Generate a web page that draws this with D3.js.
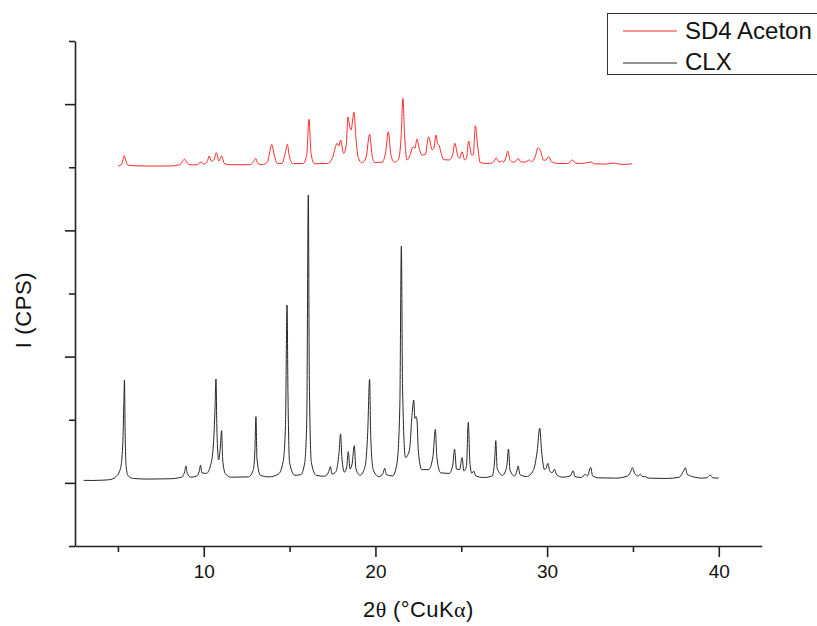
<!DOCTYPE html>
<html>
<head>
<meta charset="utf-8">
<script src="https://cdn.jsdelivr.net/npm/d3@7/dist/d3.min.js"></script>
<style>
  html, body { margin: 0; padding: 0; background: #fff; }
  svg { display: block; }
  text { font-family: Arial, "Liberation Sans", sans-serif; fill: #111; }
</style>
</head>
<body>
<svg id="chart" width="817" height="626"></svg>
<script>
// ---------- data ----------
const seriesNames = ["SD4 Aceton", "CLX"];
const seriesColors = ["#ff2a2a", "#262626"];

const xMajorTicks = [10, 20, 30, 40];
const xMinorTicks = [5, 15, 25, 35];
const yMajorTicks = [0, 2000, 4000, 6000];
const yMinorTicks = [-1000, 1000, 3000, 5000, 7000];

// SD4 Aceton trace (2θ, counts incl. stacking offset)
const sd4Theta = [5.0,5.2,5.3,5.37,5.45,5.6,6.5,8.0,8.6,8.8,8.88,9.0,9.2,9.6,9.84,10.0,10.2,10.32,10.45,10.6,10.73,10.88,11.04,11.2,11.5,12.7,12.95,13.02,13.15,13.4,13.7,13.85,13.96,14.1,14.3,14.55,14.75,14.87,14.98,15.2,15.8,16.0,16.13,16.25,16.45,17.2,17.5,17.65,17.76,17.87,17.97,18.15,18.3,18.4,18.5,18.58,18.75,18.87,19.0,19.2,19.45,19.66,19.8,19.95,20.4,20.6,20.75,20.9,21.1,21.35,21.5,21.6,21.7,21.84,22.0,22.19,22.3,22.42,22.55,22.71,22.9,23.1,23.3,23.4,23.53,23.62,23.72,23.85,23.98,24.3,24.5,24.62,24.8,24.9,25.05,25.2,25.3,25.43,25.6,25.7,25.82,25.95,26.11,26.5,26.8,26.95,27.03,27.2,27.35,27.45,27.6,27.7,27.85,28.0,28.2,28.31,28.45,28.7,28.97,29.1,29.3,29.47,29.6,29.8,29.95,30.1,30.25,30.6,31.2,31.49,31.65,32.0,32.3,32.56,32.75,33.4,33.88,34.2,34.5,34.95];
const sd4Counts = [5020,5040,5120,5183,5110,5030,5020,5020,5040,5110,5131,5080,5040,5040,5083,5050,5090,5178,5095,5120,5230,5100,5178,5060,5040,5040,5110,5141,5060,5040,5080,5250,5363,5200,5057,5060,5230,5363,5180,5055,5060,5200,5760,5220,5055,5060,5150,5300,5379,5337,5431,5220,5350,5796,5650,5590,5870,5450,5150,5072,5150,5522,5200,5075,5080,5250,5563,5200,5080,5130,5500,6092,5500,5115,5180,5325,5300,5447,5300,5194,5200,5484,5280,5300,5511,5380,5337,5200,5120,5115,5200,5379,5180,5141,5246,5115,5140,5416,5194,5200,5658,5350,5072,5060,5070,5110,5151,5080,5100,5080,5150,5257,5110,5080,5100,5141,5090,5080,5115,5090,5160,5310,5270,5110,5120,5167,5090,5060,5060,5115,5065,5060,5070,5083,5055,5050,5067,5050,5045,5055];

// CLX trace (2θ, counts)
const clxTheta = [3.0,3.5,4.0,4.5,4.9,5.15,5.28,5.35,5.38,5.42,5.48,5.6,5.9,6.8,8.0,8.7,8.88,8.96,9.04,9.25,9.6,9.74,9.81,9.89,10.15,10.4,10.56,10.66,10.71,10.77,10.87,10.96,11.04,11.1,11.25,11.6,12.6,12.88,12.98,13.04,13.1,13.3,13.8,14.35,14.62,14.76,14.85,14.91,15.0,15.3,15.65,15.88,16.0,16.09,16.15,16.27,16.55,17.05,17.28,17.37,17.48,17.7,17.88,17.97,18.05,18.2,18.33,18.42,18.52,18.64,18.77,18.86,19.1,19.4,19.55,19.66,19.73,19.88,20.2,20.44,20.54,20.64,21.0,21.25,21.42,21.51,21.58,21.75,21.98,22.14,22.23,22.3,22.36,22.42,22.5,22.7,23.1,23.35,23.49,23.58,23.8,24.3,24.5,24.61,24.72,24.9,25.05,25.15,25.3,25.41,25.5,25.62,25.72,25.85,26.3,26.8,26.95,27.01,27.09,27.4,27.65,27.75,27.84,28.1,28.25,28.31,28.42,28.8,29.2,29.42,29.57,29.68,29.85,29.97,30.04,30.15,30.3,30.43,30.55,30.9,31.35,31.52,31.62,32.0,32.23,32.35,32.54,32.65,33.0,34.0,34.7,34.9,34.97,35.1,35.3,35.44,35.55,35.73,35.9,37.0,37.7,37.95,38.06,38.15,38.35,38.6,39.0,39.3,39.51,39.65,39.9,40.0];
const clxCounts = [40,38,42,50,100,230,600,1300,1630,800,250,110,70,60,65,90,170,268,150,90,110,190,279,160,150,280,600,1200,1646,800,363,550,827,380,150,90,95,200,520,1049,380,120,95,140,330,900,2818,1300,320,120,130,320,1000,4560,1600,320,120,105,180,257,140,180,480,775,380,170,260,494,220,300,589,230,120,260,800,1641,700,200,100,150,231,130,110,300,1200,3752,1500,400,520,1100,1313,1020,1050,996,500,210,210,420,849,400,160,150,280,532,220,210,400,190,260,960,330,150,188,110,85,110,380,669,230,120,260,537,200,110,200,268,130,100,200,500,865,500,210,250,310,190,160,215,130,90,110,193,100,85,136,110,247,110,80,75,110,200,241,150,110,136,100,98,75,70,90,190,241,140,110,90,75,80,125,80,75,80];

const xTitle = "2θ (°CuKα)";
const yTitle = "I (CPS)";

// ---------- drawing ----------
(function () {
const svg = d3.select("#chart");
const pLeft = 75, pRight = 761.7, pTop = 41, pBottom = 546;

const x = d3.scaleLinear().domain([2.5, 42.5]).range([pLeft, pRight]);
const y = d3.scaleLinear().domain([-1000, 7000]).range([pBottom, pTop]);

const series = [
  { name: seriesNames[0], color: seriesColors[0], pts: d3.zip(sd4Theta, sd4Counts) },
  { name: seriesNames[1], color: seriesColors[1], pts: d3.zip(clxTheta, clxCounts) }
];

const line = d3.line().x(d => x(d[0])).y(d => y(d[1])).curve(d3.curveMonotoneX);

svg.append("g").selectAll("path").data(series).join("path")
  .attr("d", d => line(d.pts))
  .attr("fill", "none")
  .attr("stroke", d => d.color)
  .attr("stroke-width", 1)
  .attr("stroke-linejoin", "round");

function styleAxis(g) {
  g.selectAll("path.domain").attr("stroke", "#222").attr("stroke-width", 1.6);
  g.selectAll(".tick line").attr("stroke", "#222").attr("stroke-width", 1.6);
}

// x axis
const gx = svg.append("g").attr("transform", `translate(0,${pBottom})`)
  .call(d3.axisBottom(x).tickValues(xMajorTicks).tickSize(11).tickSizeOuter(0).tickPadding(8));
styleAxis(gx);
gx.selectAll(".tick text").attr("font-size", 19).attr("fill", "#111")
  .attr("font-family", "Arial, 'Liberation Sans', sans-serif").attr("dy", "0.71em").attr("y", 19);
const gxm = svg.append("g").attr("transform", `translate(0,${pBottom})`)
  .call(d3.axisBottom(x).tickValues(xMinorTicks).tickSize(6).tickFormat(""));
gxm.select("path.domain").remove();
styleAxis(gxm);

// y axis
const gy = svg.append("g").attr("transform", `translate(${pLeft},0)`)
  .call(d3.axisLeft(y).tickValues(yMajorTicks).tickSize(10).tickSizeOuter(0).tickFormat(""));
styleAxis(gy);
const gym = svg.append("g").attr("transform", `translate(${pLeft},0)`)
  .call(d3.axisLeft(y).tickValues(yMinorTicks).tickSize(6).tickFormat(""));
gym.select("path.domain").remove();
styleAxis(gym);

// axis titles
const xt = svg.append("text")
  .attr("x", (pLeft + pRight) / 2).attr("y", 617)
  .attr("text-anchor", "middle").attr("font-size", 22).attr("letter-spacing", 0.4);
xt.append("tspan").text("2");
xt.append("tspan").attr("font-family", "'Liberation Serif', 'Times New Roman', serif").text("θ");
xt.append("tspan").text(" (°CuK");
xt.append("tspan").attr("font-family", "'Liberation Serif', 'Times New Roman', serif").text("α");
xt.append("tspan").text(")");

svg.append("text")
  .attr("transform", "translate(31,310) rotate(-90)")
  .attr("text-anchor", "middle").attr("font-size", 22).attr("letter-spacing", 0.6)
  .text(yTitle);

// legend
const lg = svg.append("g");
lg.append("rect").attr("x", 607.5).attr("y", 13.5).attr("width", 240).attr("height", 61)
  .attr("fill", "#fff").attr("stroke", "#333").attr("stroke-width", 1);
const rowsY = [31, 63];
const textY = [38.5, 70];
series.forEach((s, i) => {
  lg.append("line").attr("x1", 623).attr("x2", 677).attr("y1", rowsY[i]).attr("y2", rowsY[i])
    .attr("stroke", s.color).attr("stroke-width", 1);
  lg.append("text").attr("x", 685).attr("y", textY[i]).attr("font-size", 24).text(s.name);
});
})();
</script>
</body>
</html>
